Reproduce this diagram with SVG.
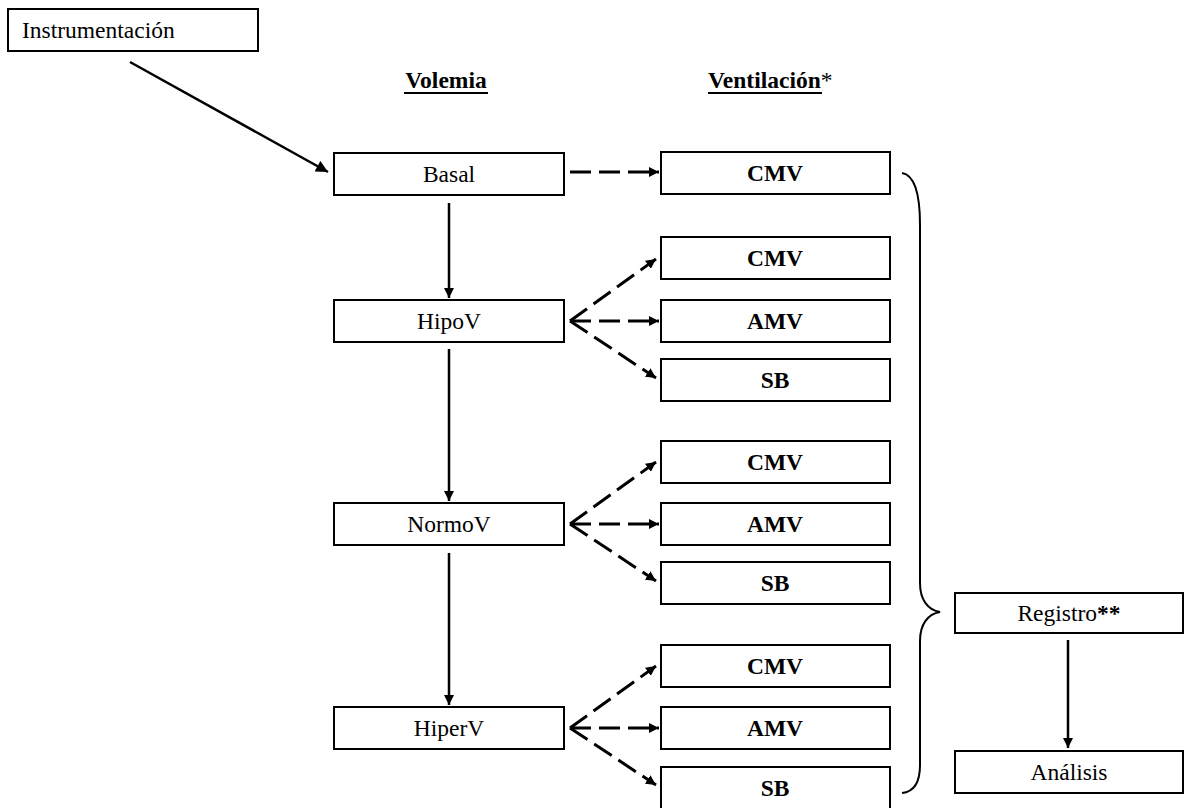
<svg xmlns="http://www.w3.org/2000/svg" width="1184" height="808" viewBox="0 0 1184 808">
<defs>
<style>
.box{fill:#fff;stroke:#000;stroke-width:2}
.t{font-family:"Liberation Serif","Times New Roman",serif;font-size:23.5px;fill:#000;text-anchor:middle}
.b{font-weight:bold}
.ln{stroke:#000;stroke-width:2.5;fill:none}
.ds{stroke:#000;stroke-width:3;fill:none;stroke-dasharray:21 8}
</style>
<marker id="ah" viewBox="0 0 10 10" refX="10" refY="5" markerWidth="10" markerHeight="10" markerUnits="userSpaceOnUse" orient="auto"><path d="M0,0 L10,5 L0,10 z" fill="#000"/></marker>
<marker id="ahL" viewBox="0 0 10 10" refX="10" refY="5" markerWidth="14" markerHeight="12" markerUnits="userSpaceOnUse" orient="auto"><path d="M0,0 L10,5 L0,10 z" fill="#000"/></marker>
</defs>
<rect width="1184" height="808" fill="#fff"/>
<g id="headers">
<text class="t b" x="446" y="88">Volemia</text>
<line x1="404" y1="93" x2="488" y2="93" stroke="#000" stroke-width="2"/>
<text class="t" x="708" y="88" style="text-anchor:start"><tspan font-weight="bold">Ventilación</tspan>*</text>
<line x1="708" y1="93" x2="822" y2="93" stroke="#000" stroke-width="2"/>
</g>
<g id="connectors">
<line class="ln" x1="130" y1="62" x2="328" y2="172" marker-end="url(#ahL)"/>
<line class="ln" x1="449" y1="203" x2="449" y2="298" marker-end="url(#ah)"/>
<line class="ln" x1="449" y1="349" x2="449" y2="501" marker-end="url(#ah)"/>
<line class="ln" x1="449" y1="553" x2="449" y2="705" marker-end="url(#ah)"/>
<line class="ln" x1="1068" y1="640" x2="1068" y2="748" marker-end="url(#ah)"/>
<line class="ds" x1="570" y1="172" x2="659" y2="172" marker-end="url(#ah)"/>
<g id="fan-hipo">
<line class="ds" x1="570" y1="321" x2="656" y2="259" marker-end="url(#ah)"/>
<line class="ds" x1="570" y1="321" x2="659" y2="321" marker-end="url(#ah)"/>
<line class="ds" x1="570" y1="321" x2="656" y2="378" marker-end="url(#ah)"/>
</g>
<g id="fan-normo">
<line class="ds" x1="570" y1="524" x2="656" y2="462" marker-end="url(#ah)"/>
<line class="ds" x1="570" y1="524" x2="659" y2="524" marker-end="url(#ah)"/>
<line class="ds" x1="570" y1="524" x2="656" y2="581" marker-end="url(#ah)"/>
</g>
<g id="fan-hiper">
<line class="ds" x1="570" y1="728" x2="656" y2="666" marker-end="url(#ah)"/>
<line class="ds" x1="570" y1="728" x2="659" y2="728" marker-end="url(#ah)"/>
<line class="ds" x1="570" y1="728" x2="656" y2="785" marker-end="url(#ah)"/>
</g>
<path id="brace" class="ln" style="stroke-width:2" d="M902,173 C915,175 920,195 920,225 L920,583 C920,600 928,610 940,612 C928,614 920,624 920,641 L920,765 C920,785 912,792 902,793"/>
</g>
<g id="instrumentacion"><rect class="box" x="8" y="9" width="250" height="42"/><text class="t" x="22" y="38" style="text-anchor:start">Instrumentación</text></g>
<g id="basal"><rect class="box" x="334" y="153" width="230" height="42"/><text class="t" x="449" y="182">Basal</text></g>
<g id="hipov"><rect class="box" x="334" y="300" width="230" height="42"/><text class="t" x="449" y="329">HipoV</text></g>
<g id="normov"><rect class="box" x="334" y="503" width="230" height="42"/><text class="t" x="449" y="532">NormoV</text></g>
<g id="hiperv"><rect class="box" x="334" y="707" width="230" height="42"/><text class="t" x="449" y="736">HiperV</text></g>
<g id="cmv0"><rect class="box" x="661" y="152" width="229" height="42"/><text class="t b" x="775" y="181">CMV</text></g>
<g id="cmv1"><rect class="box" x="661" y="237" width="229" height="42"/><text class="t b" x="775" y="266">CMV</text></g>
<g id="amv1"><rect class="box" x="661" y="300" width="229" height="42"/><text class="t b" x="775" y="329">AMV</text></g>
<g id="sb1"><rect class="box" x="661" y="359" width="229" height="42"/><text class="t b" x="775" y="388">SB</text></g>
<g id="cmv2"><rect class="box" x="661" y="441" width="229" height="42"/><text class="t b" x="775" y="470">CMV</text></g>
<g id="amv2"><rect class="box" x="661" y="503" width="229" height="42"/><text class="t b" x="775" y="532">AMV</text></g>
<g id="sb2"><rect class="box" x="661" y="562" width="229" height="42"/><text class="t b" x="775" y="591">SB</text></g>
<g id="cmv3"><rect class="box" x="661" y="645" width="229" height="42"/><text class="t b" x="775" y="674">CMV</text></g>
<g id="amv3"><rect class="box" x="661" y="707" width="229" height="42"/><text class="t b" x="775" y="736">AMV</text></g>
<g id="sb3"><rect class="box" x="661" y="767" width="229" height="42"/><text class="t b" x="775" y="796">SB</text></g>
<g id="registro"><rect class="box" x="955" y="593" width="228" height="40"/><text class="t" x="1069" y="621">Registro<tspan font-weight="bold">**</tspan></text></g>
<g id="analisis"><rect class="box" x="955" y="751" width="228" height="42"/><text class="t" x="1069" y="780">Análisis</text></g>
</svg>
